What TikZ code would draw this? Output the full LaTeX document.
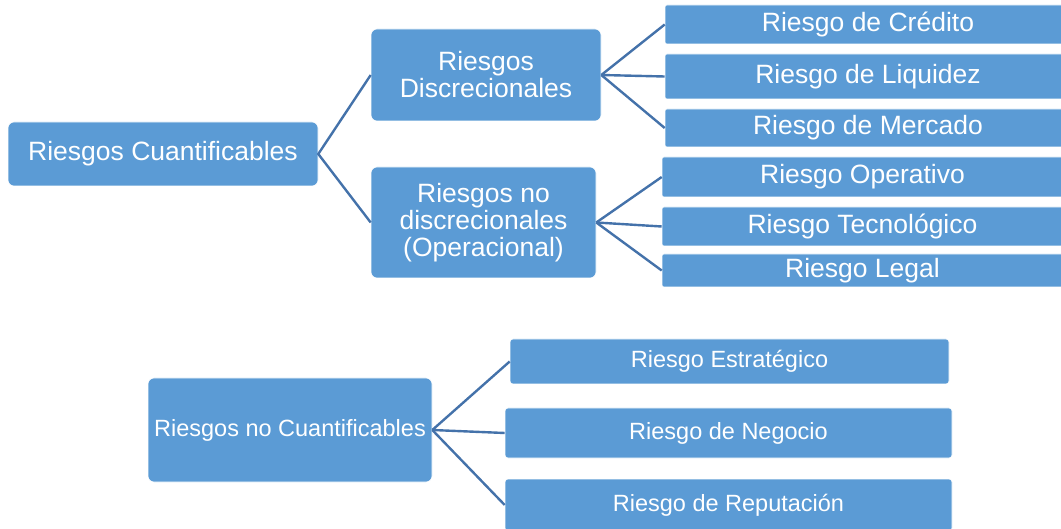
\documentclass[tikz,border=0pt]{standalone}
\usepackage{fontspec}
\setmainfont{Liberation Sans}
\definecolor{boxblue}{RGB}{91,155,213}
\definecolor{lineblue}{RGB}{68,114,170}

\begin{document}
\begin{tikzpicture}[x=1pt,y=-1pt,
   box/.style={fill=boxblue, draw=white, line width=.6pt, text=white, align=center,
               inner sep=0pt, font=\fontsize{26.5}{27}\selectfont},
   big/.style={box, rounded corners=6pt},
   leaf/.style={box, rounded corners=2pt},
   low/.style={box, rounded corners=3pt, font=\fontsize{23.5}{26}\selectfont},
   link/.style={draw=lineblue, line width=2.4pt}]
   \useasboundingbox (0,0) rectangle (1061,529);
 % cuantificables
   \node (cuant) [big, minimum width=310, minimum height=64] at (163,154) {Riesgos Cuantificables};
   \node (disc) [big, minimum width=230, minimum height=92] at (486,75) {Riesgos\\Discrecionales};
   \node (nodisc) [big, minimum width=225, minimum height=111] at (483.5,222.5) {Riesgos no\\discrecionales\\(Operacional)};
   \node (credito) [leaf, minimum width=406, minimum height=39] at (868,24.5) {Riesgo de Cr\'edito};
   \node (liquidez) [leaf, minimum width=406, minimum height=45] at (868,76.5) {Riesgo de Liquidez};
   \node (mercado) [leaf, minimum width=406, minimum height=38] at (868,128) {Riesgo de Mercado};
   \node (operativo) [leaf, minimum width=401, minimum height=40] at (862.5,177) {Riesgo Operativo};
   \node (tecno) [leaf, minimum width=401, minimum height=39] at (862.5,226.5) {Riesgo Tecnol\'ogico};
   \node (legal) [leaf, minimum width=401, minimum height=33] at (862.5,270.5) {Riesgo Legal};
   \draw[link] (disc.west) -- (cuant.east) -- (nodisc.west);
   \foreach \n in {credito, liquidez, mercado}
     \draw[link] (disc.east) -- (\n.west);
   \foreach \n in {operativo, tecno, legal}
     \draw[link] (nodisc.east) -- (\n.west);
 % no cuantificables
   \node (nocuant) [low, rounded corners=6pt, minimum width=284, minimum height=104] at (290,430) {Riesgos no Cuantificables};
   \node (estrat) [low, minimum width=439, minimum height=45] at (729.5,361.5) {Riesgo Estrat\'egico};
   \node (negocio) [low, minimum width=447, minimum height=50] at (728.5,433) {Riesgo de Negocio};
   \node (reput) [low, minimum width=447, minimum height=52] at (728.5,505) {Riesgo de Reputaci\'on};
   \foreach \n in {estrat, negocio, reput}
     \draw[link] (nocuant.east) -- (\n.west);
\end{tikzpicture}
\end{document}
